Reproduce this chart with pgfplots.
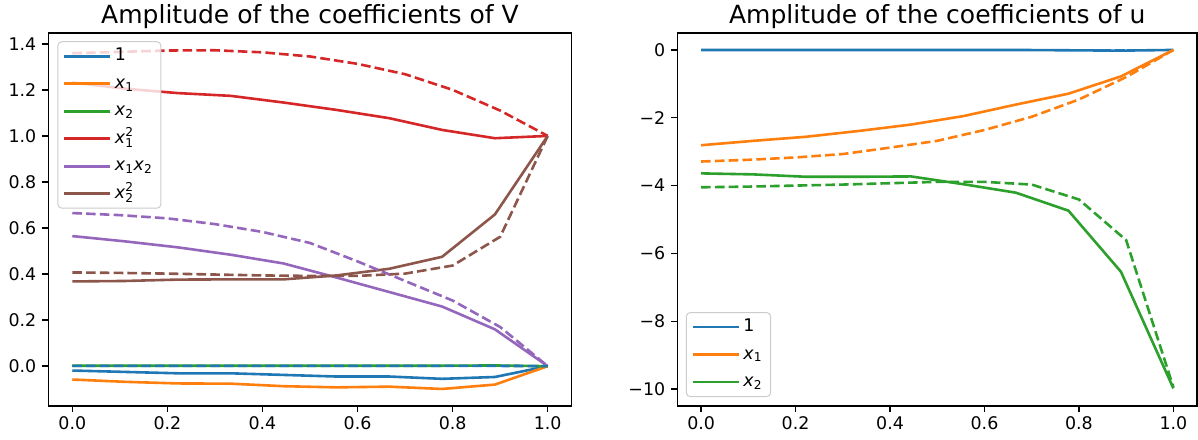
\documentclass[border=0pt]{standalone}
\usepackage{pgfplots}
\pgfplotsset{compat=1.18}
\usepackage{fontspec}
\setmainfont{DejaVu Sans}
\definecolor{C0}{HTML}{1F77B4}
\definecolor{C1}{HTML}{FF7F0E}
\definecolor{C2}{HTML}{2CA02C}
\definecolor{C3}{HTML}{D62728}
\definecolor{C4}{HTML}{9467BD}
\definecolor{C5}{HTML}{8C564B}
\newcommand{\sm}[1]{\mbox{\fontsize{12.2}{12}\selectfont #1}}
\newcommand{\xsub}[1]{\textit{x}$_{\sm{#1}}$}
\newcommand{\xsq}[1]{\textit{x}$^{\sm{2}}_{\sm{#1}}$}
\pgfplotsset{
  mpl/.style={
    scale only axis,
    axis line style={line width=1.39pt, black},
    tick style={line width=1.39pt, black},
    tick align=outside,
    major tick length=6.1pt,
    xtick pos=bottom, ytick pos=left,
    ticklabel style={font=\fontsize{17.4}{20}\selectfont},
    xticklabel style={inner sep=0pt, anchor=north, yshift=-4.5pt},
    yticklabel style={inner sep=0pt, anchor=east, xshift=-6pt},
    /pgf/number format/assume math mode=true,
    xmin=-0.05, xmax=1.05,
    xtick={0,0.2,0.4,0.6,0.8,1},
    xticklabels={0.0,0.2,0.4,0.6,0.8,1.0},
    legend cell align=left,
    legend image code/.code={\draw[#1, dash pattern=] (0pt,0pt) -- (34.7pt,0pt); \path (0pt,0pt) -- (46pt,0pt);},
    legend style={font=\fontsize{17.4}{20}\selectfont, draw=black!20, line width=1pt,
      rounded corners=4pt, fill=white, fill opacity=0.8, text opacity=1,
      inner xsep=5pt, inner ysep=2pt, row sep=2.5pt,
      nodes={text height=13pt, text depth=4pt, inner ysep=4pt, inner xsep=3.5pt}},
  },
  s/.style={#1, line width=2.6pt, solid},
  d/.style={#1, line width=2.6pt, dash pattern=on 9.6pt off 4.2pt, forget plot},
}
\begin{document}
\begin{tikzpicture}
\path[use as bounding box] (0,0) rectangle (1198pt,439pt);
\begin{axis}[mpl, name=V,
  at={(48.5pt,33pt)}, anchor=south west, width=523pt, height=373pt,
  ymin=-0.173, ymax=1.447,
  ytick={0,0.2,0.4,0.6,0.8,1.0,1.2,1.4},
  yticklabels={0.0,0.2,0.4,0.6,0.8,1.0,1.2,1.4},
  legend style={at={(0.017,0.978)}, anchor=north west},
]
\addplot[s=C0] coordinates {(0,-0.019) (0.1111,-0.025) (0.2222,-0.031) (0.3333,-0.031) (0.4444,-0.038) (0.5556,-0.045) (0.6667,-0.045) (0.7778,-0.055) (0.8889,-0.047) (1,0)};
\addlegendentry{1}
\addplot[s=C1] coordinates {(0,-0.058) (0.1111,-0.068) (0.2222,-0.075) (0.3333,-0.076) (0.4444,-0.087) (0.5556,-0.092) (0.6667,-0.089) (0.7778,-0.099) (0.8889,-0.080) (1,0)};
\addlegendentry{\xsub{1}}
\addplot[s=C2] coordinates {(0,0.002) (0.1111,0.002) (0.2222,0.002) (0.3333,0.002) (0.4444,0.002) (0.5556,0.002) (0.6667,0.002) (0.7778,0.002) (0.8889,0.003) (1,0)};
\addlegendentry{\xsub{2}}
\addplot[s=C3] coordinates {(0,1.232) (0.1111,1.205) (0.2222,1.186) (0.3333,1.174) (0.4444,1.145) (0.5556,1.113) (0.6667,1.077) (0.7778,1.026) (0.8889,0.990) (1,1.0)};
\addlegendentry{\xsq{1}}
\addplot[s=C4] coordinates {(0,0.565) (0.1111,0.542) (0.2222,0.516) (0.3333,0.484) (0.4444,0.446) (0.5556,0.385) (0.6667,0.322) (0.7778,0.259) (0.8889,0.160) (1,0)};
\addlegendentry{\xsub{1}\xsub{2}}
\addplot[s=C5] coordinates {(0,0.368) (0.1111,0.370) (0.2222,0.376) (0.3333,0.377) (0.4444,0.377) (0.5556,0.394) (0.6667,0.423) (0.7778,0.475) (0.8889,0.659) (1,1.0)};
\addlegendentry{\xsq{2}}
\addplot[d=C1] coordinates {(0,0) (0.1,0) (0.2,0) (0.3,0) (0.4,0) (0.5,0) (0.6,0) (0.7,0) (0.8,0) (0.9,0) (1,0)};
\addplot[d=C2] coordinates {(0,0) (0.1,0) (0.2,0) (0.3,0) (0.4,0) (0.5,0) (0.6,0) (0.7,0) (0.8,0) (0.9,0) (1,0)};
\addplot[d=C0] coordinates {(0,0.001) (0.1,0.001) (0.2,0.001) (0.3,0.001) (0.4,0.001) (0.5,0.001) (0.6,0.001) (0.7,0.001) (0.8,0.001) (0.9,0.001) (1,0)};
\addplot[d=C3] coordinates {(0,1.359) (0.1,1.365) (0.2,1.371) (0.3,1.372) (0.4,1.363) (0.5,1.345) (0.6,1.313) (0.7,1.268) (0.8,1.200) (0.9,1.110) (1,1.0)};
\addplot[d=C4] coordinates {(0,0.665) (0.1,0.656) (0.2,0.642) (0.3,0.617) (0.4,0.583) (0.5,0.535) (0.6,0.455) (0.7,0.370) (0.8,0.285) (0.9,0.170) (1,0)};
\addplot[d=C5] coordinates {(0,0.407) (0.1,0.405) (0.2,0.402) (0.3,0.398) (0.4,0.394) (0.5,0.392) (0.6,0.392) (0.7,0.402) (0.8,0.437) (0.9,0.562) (1,1.0)};
\end{axis}
\node[anchor=base, inner sep=0pt, font=\fontsize{25}{30}\selectfont] at ([yshift=9.7pt]V.north) {Amplitude of the coefficients of V};
\begin{axis}[mpl, name=U,
  at={(677.5pt,33pt)}, anchor=south west, width=519.5pt, height=373pt,
  ymin=-10.5, ymax=0.5,
  ytick={-10,-8,-6,-4,-2,0},
  yticklabels={−10,−8,−6,−4,−2,0},
  legend style={at={(0.016,0.024)}, anchor=south west},
]
\addplot[s=C0] coordinates {(0,0) (0.1111,0) (0.2222,0) (0.3333,0) (0.4444,0) (0.5556,0) (0.6667,0) (0.7778,-0.01) (0.8889,-0.02) (1,0)};
\addlegendentry{1}
\addplot[s=C1] coordinates {(0,-2.81) (0.1111,-2.68) (0.2222,-2.56) (0.3333,-2.39) (0.4444,-2.20) (0.5556,-1.95) (0.6667,-1.61) (0.7778,-1.29) (0.8889,-0.78) (1,0)};
\addlegendentry{\xsub{1}}
\addplot[s=C2] coordinates {(0,-3.64) (0.1111,-3.67) (0.2222,-3.74) (0.3333,-3.74) (0.4444,-3.73) (0.5556,-3.96) (0.6667,-4.21) (0.7778,-4.74) (0.8889,-6.54) (1,-9.98)};
\addlegendentry{\xsub{2}}
\addplot[d=C0] coordinates {(0,0) (0.1,0) (0.2,0) (0.3,0) (0.4,0) (0.5,0) (0.6,0) (0.7,0) (0.8,0) (0.9,0) (1,0)};
\addplot[d=C1] coordinates {(0,-3.29) (0.1,-3.24) (0.2,-3.17) (0.3,-3.07) (0.4,-2.88) (0.5,-2.68) (0.6,-2.36) (0.7,-1.97) (0.8,-1.46) (0.9,-0.80) (1,0)};
\addplot[d=C2] coordinates {(0,-4.05) (0.1,-4.03) (0.2,-4.00) (0.3,-3.97) (0.4,-3.93) (0.5,-3.89) (0.6,-3.89) (0.7,-3.97) (0.8,-4.41) (0.9,-5.61) (1,-9.95)};
\end{axis}
\node[anchor=base, inner sep=0pt, font=\fontsize{25}{30}\selectfont] at ([yshift=9.7pt]U.north) {Amplitude of the coefficients of u};
\end{tikzpicture}
\end{document}
